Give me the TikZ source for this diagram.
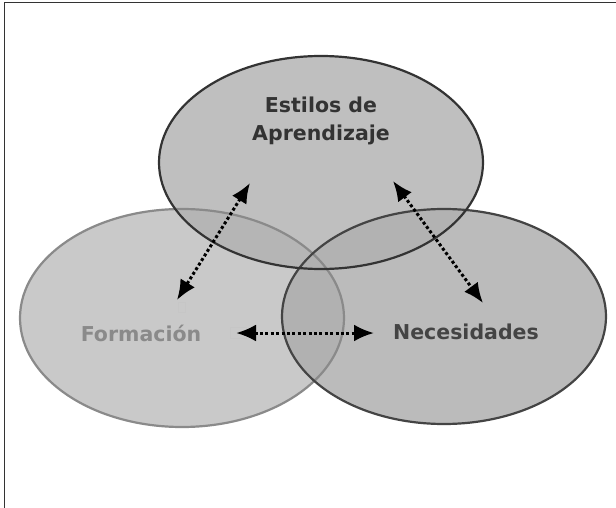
\documentclass[tikz,border=0pt]{standalone}
\usepackage{fontspec}
\setmainfont{DejaVu Sans}
\usetikzlibrary{arrows.meta,shapes.geometric}
\definecolor{darkline}{HTML}{333333}
\definecolor{midline}{HTML}{444444}
\definecolor{lightline}{HTML}{8A8A8A}
\definecolor{fillA}{HTML}{B0B0B0}
\definecolor{fillB}{HTML}{ABABAB}
\definecolor{fillC}{HTML}{C4C4C4}
\tikzset{
  circ/.style={ellipse, line width=2.2pt, inner sep=0pt},
  lbl/.style={font=\bfseries\fontsize{20.5}{28}\selectfont, align=center, inner sep=0pt},
  link/.style={line width=3pt, dash pattern=on 3pt off 2.4pt, black,
    {Latex[length=20pt,width=17pt]}-{Latex[length=20pt,width=17pt]}},
  handle/.style={draw=gray!45, line width=0.7pt}
}
\begin{document}
\begin{tikzpicture}[x=1pt,y=-1pt]
\useasboundingbox (0,0) rectangle (616,508);
\fill[white] (0,0) rectangle (616,508);
\draw[darkline, line width=1.6pt] (4.5,508) -- (4.5,2.5) -- (616,2.5);
% fills
\fill[fillC, fill opacity=0.9] (182,318) ellipse [x radius=162, y radius=109];
\fill[fillB, fill opacity=0.8] (444,316.5) ellipse [x radius=162, y radius=107.5];
\fill[fillA, fill opacity=0.8] (321,162.5) ellipse [x radius=162, y radius=106.5];
% outlines as nodes
\node[circ, draw=lightline, minimum width=324pt, minimum height=218pt] (form) at (182,318) {};
\node[circ, draw=midline, minimum width=324pt, minimum height=215pt] (nec) at (444,316.5) {};
\node[circ, draw=darkline, minimum width=324pt, minimum height=213pt] (est) at (321,162.5) {};
% labels
\node[lbl, text=darkline] (testilos) at (321,121) {Estilos de\\Aprendizaje};
\node[lbl, text=lightline] (tform) at (141,333) {Formación};
\node[lbl, text=midline] (tnec) at (466,332) {Necesidades};
% handle artefacts
\draw[handle] (178,302) rectangle (185,312);
\draw[handle] (230,327) rectangle (246,338);
% connectors
\coordinate (a1) at (250,183);
\coordinate (a2) at (177,300);
\coordinate (b1) at (393,181);
\coordinate (b2) at (483,303);
\coordinate (c1) at (236,333);
\coordinate (c2) at (374,333);
\draw[link] (a1) -- (a2);
\draw[link] (b1) -- (b2);
\draw[link] (c1) -- (c2);
\end{tikzpicture}
\end{document}
